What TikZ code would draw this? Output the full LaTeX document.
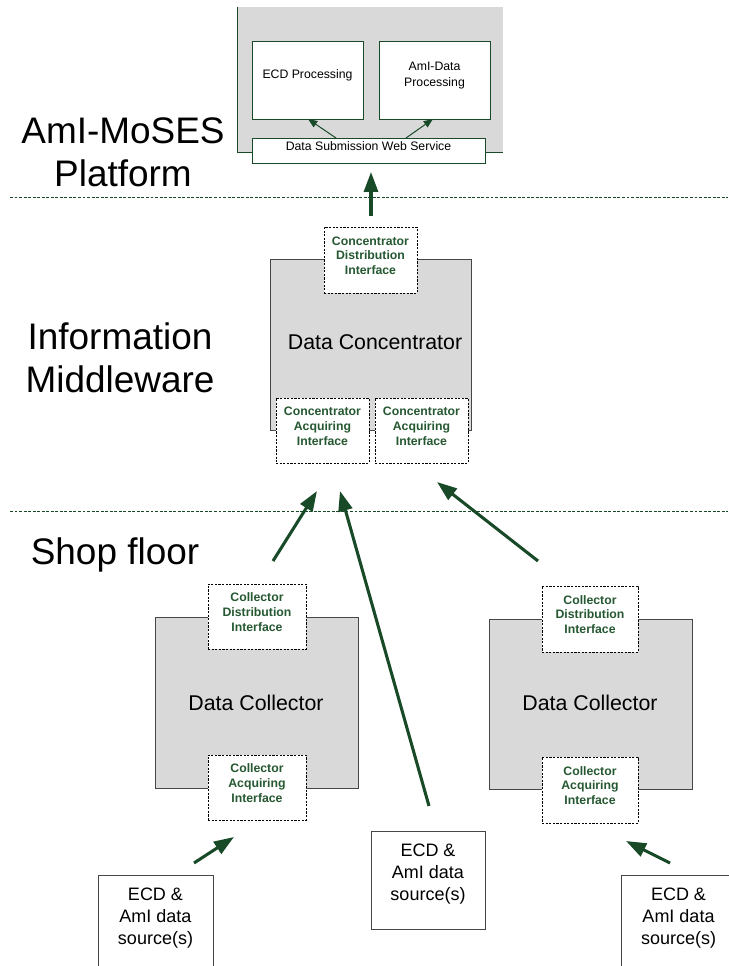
\documentclass[tikz,border=0pt]{standalone}
\usepackage{fontspec}
\setmainfont{Liberation Sans}
\usetikzlibrary{arrows.meta,fit}
\definecolor{dgreen}{RGB}{24,74,40}
\definecolor{tgreen}{RGB}{38,88,50}
\definecolor{lgrey}{RGB}{217,217,217}
\definecolor{bgrey}{RGB}{70,70,70}
\begin{document}
\begin{tikzpicture}[x=0.75pt,y=-0.75pt,
  greybox/.style={fill=lgrey,draw=bgrey,line width=0.7pt,inner sep=0pt},
  ifbox/.style={fill=white,draw=black,line width=0.55pt,dash pattern=on 1.6pt off 1.1pt,inner sep=0pt,align=center,text=tgreen,font=\fontsize{9.2}{11.2}\selectfont\bfseries},
  procbox/.style={fill=white,draw=dgreen,line width=0.6pt,inner sep=0pt,align=center,font=\fontsize{9.2}{11.7}\selectfont},
  srcbox/.style={fill=white,draw=bgrey,line width=0.7pt,inner sep=0pt,align=center,font=\fontsize{13.5}{16.5}\selectfont},
  midtext/.style={font=\fontsize{16}{19}\selectfont},
  bigtext/.style={font=\fontsize{27.7}{32}\selectfont,align=center,inner sep=0pt},
  divider/.style={draw=dgreen,line width=0.6pt,dash pattern=on 2.2pt off 1.2pt},
  bigarrow/.style={draw=dgreen,line width=2.3pt,-{Triangle[length=15pt,width=10.5pt]}},
  smallarrow/.style={draw=dgreen,line width=0.75pt,-{Triangle[length=7pt,width=5.5pt]}}
]
\useasboundingbox (0,0) rectangle (728,966);

% Platform
\node[fill=lgrey,inner sep=0pt,fit={(238,7) (503,152)}] (platform) {};
\draw[dgreen,line width=1pt] (platform.north west) -- (platform.south west) -- (platform.south east);
\node[procbox,fit={(252,41) (363,119)}] (ecdp) {ECD Processing};
\node[procbox,fit={(379,41) (490,119)}] (amip) {AmI-Data\\Processing};
\node[procbox,fit={(252,138) (485,163)}] (ws) {Data Submission Web Service};
\coordinate (ws1) at (336,138);
\coordinate (ws2) at (406,138);
\coordinate (ecdin) at (308,119);
\coordinate (amiin) at (433,119);
\draw[smallarrow] (ws1) -- (ecdin);
\draw[smallarrow] (ws2) -- (amiin);

% labels
\node[bigtext] (lplat) at (123,152) {AmI-MoSES\\Platform};
\node[bigtext] (lmid) at (120,358) {Information\\Middleware};
\node[bigtext] (lshop) at (115,555) {Shop floor};

% dividers
\coordinate (d1a) at (10,197);
\coordinate (d1b) at (728,197);
\coordinate (d2a) at (10,511);
\coordinate (d2b) at (728,511);
\draw[divider] (d1a) -- (d1b);
\draw[divider] (d2a) -- (d2b);

% Concentrator
\node[greybox,fit={(270,259) (471,430)}] (conc) {};
\node[midtext] (conct) at (375,342) {Data Concentrator};
\node[ifbox,fit={(324,227) (417,293)}] (cdist) {Concentrator\\Distribution\\Interface};
\node[ifbox,fit={(276,398) (369,463)}] (cacq1) {Concentrator\\Acquiring\\Interface};
\node[ifbox,fit={(375,398) (468,463)}] (cacq2) {Concentrator\\Acquiring\\Interface};
\coordinate (cup) at (371,216);
\coordinate (wsin) at (371,172);
\draw[bigarrow] (cup) -- (wsin);

% Left collector
\node[greybox,fit={(155,617) (358,788)}] (colL) {};
\node[midtext] (colLt) at (256,703) {Data Collector};
\node[ifbox,fit={(208,584) (306,649)}] (ldist) {Collector\\Distribution\\Interface};
\node[ifbox,fit={(208,755) (306,820)}] (lacq) {Collector\\Acquiring\\Interface};

% Right collector
\node[greybox,fit={(489,619) (692,789)}] (colR) {};
\node[midtext] (colRt) at (590,703) {Data Collector};
\node[ifbox,fit={(542,586) (638,652)}] (rdist) {Collector\\Distribution\\Interface};
\node[ifbox,fit={(542,757) (638,823)}] (racq) {Collector\\Acquiring\\Interface};

% sources
\node[srcbox,fit={(98,875) (213,974)}] (srcL) {ECD \&\\AmI data\\source(s)};
\node[srcbox,fit={(371,831) (485,929)}] (srcM) {ECD \&\\AmI data\\source(s)};
\node[srcbox,fit={(621,875) (736,974)}] (srcR) {ECD \&\\AmI data\\source(s)};

% shop floor arrows
\coordinate (lout) at (273,561);
\coordinate (lin) at (317,491);
\coordinate (mout) at (429,806);
\coordinate (min) at (340,491);
\coordinate (rout) at (538,561);
\coordinate (rin) at (437,482);
\draw[bigarrow] (lout) -- (lin);
\draw[bigarrow] (mout) -- (min);
\draw[bigarrow] (rout) -- (rin);
\coordinate (slout) at (194,863);
\coordinate (slin) at (234,837);
\coordinate (srout) at (670,863);
\coordinate (srin) at (626,841);
\draw[bigarrow] (slout) -- (slin);
\draw[bigarrow] (srout) -- (srin);
\end{tikzpicture}
\end{document}
